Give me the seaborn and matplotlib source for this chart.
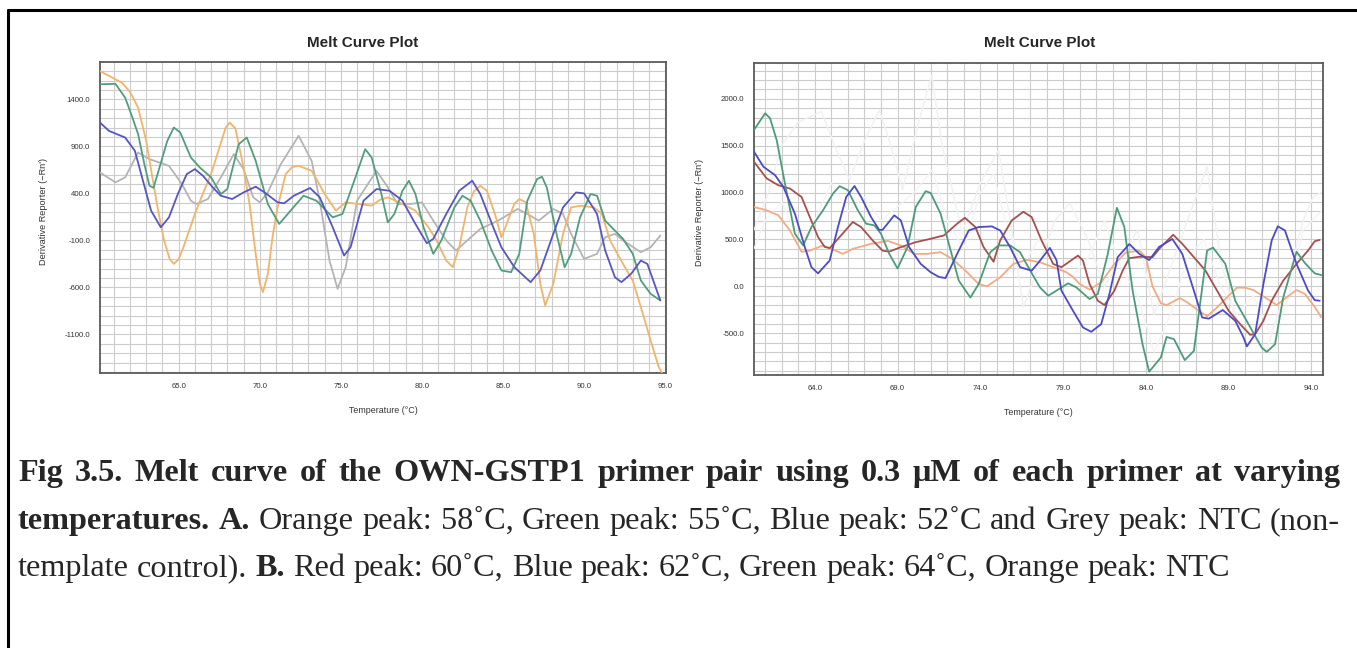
import matplotlib
matplotlib.use("Agg")
import matplotlib.pyplot as plt
from matplotlib.ticker import MultipleLocator, FormatStrFormatter
import pandas as pd
import seaborn as sns

# ---------------- panel A ----------------
a_orange_t = [60.15, 60.8, 61.5, 62.0, 62.5, 63.0, 63.35, 63.7, 64.1, 64.45, 64.7, 65.0, 65.3, 65.7, 66.0,
              66.5, 67.0, 67.5, 67.9, 68.15, 68.5, 69.0, 69.4, 69.75, 70.0, 70.2, 70.5, 70.8, 71.1, 71.6,
              72.0, 72.4, 73.2, 73.6, 74.0, 74.7, 75.3, 76.1, 76.9, 77.4, 77.9, 78.4, 78.8, 79.6, 80.4,
              80.9, 81.5, 81.9, 82.3, 82.8, 83.2, 83.6, 84.0, 84.5, 84.9, 85.3, 85.7, 86.0, 86.4, 86.9,
              87.3, 87.6, 88.1, 88.7, 89.2, 89.8, 90.6, 91.1, 91.6, 92.4, 93.0, 93.5, 94.1, 94.6, 94.8]
a_orange_v = [1700, 1640, 1577, 1480, 1312, 959, 600, 250, -100, -300, -350, -300, -170, 30, 180,
              400, 605, 880, 1100, 1153, 1090, 676, 250, -243, -560, -650, -455, -50, 251, 605,
              680, 693, 640, 520, 393, 216, 305, 287, 270, 330, 358, 320, 287, 216, 40,
              -100, -314, -385, -173, 251, 420, 481, 428, 181, -67, 110, 290, 340, 305, -31,
              -562, -792, -562, -31, 251, 269, 251, 181, -100, -350, -526, -809, -1163, -1446, -1510]

a_green_t = [60.15, 61.1, 61.7, 62.1, 62.5, 62.9, 63.2, 63.45, 63.7, 64.3, 64.7, 65.1, 65.75, 66.3, 67.0,
             67.6, 68.0, 68.7, 69.2, 69.75, 70.5, 71.2, 71.9, 72.7, 73.5, 74.5, 75.1, 75.9, 76.5, 76.9,
             77.5, 77.9, 78.3, 78.8, 79.2, 79.6, 80.1, 80.7, 81.2, 82.0, 82.5, 83.0, 83.6, 84.3, 84.9,
             85.5, 86.0, 86.5, 87.1, 87.4, 87.7, 88.3, 88.8, 89.2, 89.75, 90.4, 90.8, 91.3, 91.9, 92.4,
             93.0, 93.5, 94.1, 94.7]
a_green_v = [1560, 1565, 1418, 1230, 1030, 700, 481, 460, 605, 959, 1100, 1047, 782, 676, 570,
             393, 446, 923, 994, 746, 287, 75, 216, 375, 322, 145, 181, 570, 870, 782,
             393, 92, 181, 428, 534, 393, 40, -243, -100, 251, 375, 322, 110, -208, -420,
             -438, -243, 322, 552, 577, 464, -31, -385, -243, 145, 393, 375, 110, 4, -84,
             -243, -526, -668, -738]

a_blue_t = [60.15, 60.7, 61.7, 62.3, 62.8, 63.3, 63.9, 64.4, 64.95, 65.5, 66.0, 66.5, 67.1, 67.6, 68.3,
            69.0, 69.75, 70.3, 71.1, 71.5, 72.1, 73.1, 73.7, 74.5, 75.2, 75.6, 76.4, 77.2, 78.0, 78.8,
            79.6, 80.3, 80.7, 81.5, 82.3, 83.1, 83.6, 84.4, 84.9, 85.7, 86.7, 87.3, 88.1, 88.7, 89.5,
            90.0, 90.8, 91.3, 91.9, 92.3, 92.9, 93.5, 93.9, 94.7]
a_blue_v = [1153, 1065, 994, 853, 534, 216, 39, 145, 393, 605, 658, 587, 464, 375, 340,
            410, 471, 410, 305, 294, 375, 457, 358, 39, -261, -173, 322, 446, 428, 322,
            75, -130, -84, 181, 428, 534, 393, 39, -173, -385, -544, -420, -31, 251, 410,
            400, 181, -208, -491, -544, -455, -314, -350, -738]

a_grey_t = [60.15, 61.1, 61.7, 62.5, 63.2, 64.4, 65.2, 65.75, 66.1, 66.8, 67.6, 68.4, 69.0, 69.6, 70.0,
            70.5, 71.3, 72.4, 73.2, 73.7, 74.3, 74.8, 75.3, 76.0, 77.2, 77.9, 78.5, 79.3, 80.0, 80.7,
            81.5, 82.1, 82.8, 83.6, 84.7, 85.9, 86.5, 87.2, 88.1, 88.7, 89.2, 90.0, 90.8, 91.3, 91.9,
            92.4, 93.5, 94.1, 94.7]
a_grey_v = [623, 517, 570, 835, 764, 693, 499, 322, 287, 340, 570, 817, 658, 358, 305,
            410, 711, 1012, 746, 322, -314, -615, -385, 322, 640, 464, 287, 287, 305, 110,
            -100, -208, -100, 22, 110, 234, 181, 110, 234, 181, -31, -297, -243, -67, -31,
            -100, -226, -173, -49]

# ---------------- panel B ----------------
b_green_t = [60.33, 61.0, 61.3, 61.7, 62.2, 62.8, 63.3, 63.8, 64.5, 65.1, 65.5, 66.0, 66.6, 67.1, 67.6,
             68.0, 68.5, 69.0, 69.6, 70.1, 70.7, 71.0, 71.6, 72.1, 72.7, 73.4, 73.9, 74.6, 75.1, 75.8,
             76.4, 76.9, 77.6, 78.1, 78.6, 79.3, 79.8, 80.6, 81.1, 81.7, 82.25, 82.7, 83.2, 83.8, 84.2,
             84.9, 85.25, 85.7, 86.35, 86.9, 87.3, 87.7, 88.06, 88.8, 89.4, 90.2, 91.0, 91.3, 91.8, 92.3,
             93.1, 93.6, 94.2, 94.6]
b_green_v = [1668, 1845, 1793, 1560, 1096, 561, 436, 632, 811, 989, 1068, 1025, 811, 668, 650,
             561, 346, 190, 418, 846, 1015, 996, 775, 453, 61, -120, 25, 364, 436, 436,
             364, 204, -11, -100, -46, 32, -11, -136, -82, 346, 838, 632, -46, -618, -910,
             -761, -540, -564, -787, -689, -154, 382, 413, 239, -154, -404, -654, -700, -618, -118,
             369, 250, 138, 120]

b_blue_t = [60.33, 60.9, 61.6, 62.1, 62.8, 63.4, 63.8, 64.2, 64.9, 65.4, 65.9, 66.4, 66.8, 67.4, 67.9,
            68.1, 68.8, 69.2, 69.7, 70.4, 71.0, 71.5, 71.9, 72.6, 73.3, 73.9, 74.7, 75.2, 75.8, 76.4,
            77.1, 77.5, 78.2, 78.6, 78.9, 79.6, 80.2, 80.7, 81.3, 81.8, 82.3, 83.0, 83.6, 84.2, 84.8,
            85.6, 86.2, 86.9, 87.4, 87.8, 88.65, 89.4, 89.9, 90.1, 90.6, 91.1, 91.6, 91.97, 92.4, 93.1,
            93.8, 94.2, 94.5]
b_blue_v = [1436, 1275, 1186, 1061, 775, 418, 204, 138, 275, 632, 953, 1070, 953, 739, 600,
            603, 757, 703, 418, 239, 150, 100, 88, 346, 596, 632, 639, 596, 418, 204,
            167, 250, 410, 280, -46, -261, -439, -485, -404, -82, 311, 451, 346, 280, 420,
            505, 346, -46, -332, -345, -253, -368, -546, -641, -511, 25, 489, 640, 596, 239,
            -46, -147, -154]

b_red_t = [60.33, 61.1, 61.8, 62.5, 63.2, 63.7, 64.2, 64.6, 64.9, 65.5, 66.3, 66.8, 67.5, 68.1, 68.5,
           69.2, 70.1, 71.0, 71.8, 72.6, 73.07, 73.7, 74.2, 74.8, 75.2, 75.9, 76.6, 77.1, 77.7, 78.4,
           78.9, 79.9, 80.2, 80.6, 81.1, 81.5, 82.1, 82.6, 83.0, 83.6, 84.4, 84.9, 85.65, 86.2, 86.9,
           87.6, 88.3, 89.0, 89.7, 90.3, 90.6, 91.1, 91.6, 92.3, 93.1, 93.8, 94.2, 94.5]
b_red_v = [1328, 1150, 1078, 1043, 953, 739, 525, 420, 408, 525, 686, 632, 489, 380, 370,
           418, 471, 507, 543, 668, 731, 632, 418, 262, 489, 703, 795, 739, 489, 239,
           204, 328, 275, 25, -154, -200, -46, 168, 300, 315, 311, 418, 550, 453, 311,
           168, -46, -261, -404, -517, -511, -368, -154, 61, 239, 382, 481, 495]

b_orange_t = [60.33, 61.1, 61.8, 62.5, 63.2, 63.7, 64.5, 65.0, 65.7, 66.3, 67.4, 68.4, 69.2, 70.0, 70.8,
              71.6, 72.3, 73.1, 73.9, 74.4, 75.2, 76.0, 76.8, 77.6, 78.4, 79.2, 79.6, 80.0, 80.6, 81.3,
              82.1, 82.8, 83.6, 84.0, 84.4, 84.9, 85.25, 86.05, 86.5, 87.2, 87.7, 88.3, 88.9, 89.5, 90.0,
              90.5, 91.3, 91.9, 92.5, 93.1, 93.6, 94.2, 94.6]
b_orange_v = [846, 811, 757, 596, 369, 380, 436, 400, 346, 400, 453, 485, 436, 346, 346,
              364, 293, 168, 25, 0, 96, 239, 282, 257, 204, 150, 100, 25, -35, 43,
              239, 360, 380, 311, 0, -180, -200, -126, -171, -261, -320, -225, -118, -15, -15,
              -40, -130, -200, -118, -40, -80, -220, -330]

# faint background traces in panel B
b_ghost1_t = [60.33, 61.2, 62.0, 63.0, 64.4, 65.2, 66.1, 67.0, 67.9, 68.6, 69.3, 70.2, 71.06, 71.7, 72.9,
              74.0, 75.1, 75.9, 76.6, 77.5, 78.5, 79.4, 80.5, 81.5, 82.5, 83.5, 84.5, 85.5, 86.5, 87.7,
              88.5, 89.5, 91.3, 92.5, 93.5, 94.1, 94.6]
b_ghost1_v = [600, 1000, 1500, 1750, 1862, 1500, 1134, 1550, 1880, 1500, 1027, 1700, 2250, 1500, 568,
              1100, 1454, 600, -221, 200, 700, 888, 500, 0, 300, 600, -300, 200, 700, 1276,
              300, -400, -680, 0, 700, 952, 1000]
b_ghost2_t = [60.33, 61.0, 62.0, 63.2, 64.0, 65.0, 66.0, 67.0, 68.0, 69.0, 70.0, 71.1, 72.0, 73.0, 74.0,
              74.8, 75.5, 76.5, 77.5, 78.5, 79.5, 80.5, 81.5, 82.5, 83.5, 84.5, 85.5, 86.5, 87.5, 88.5,
              89.5, 90.5, 91.5, 92.5, 93.5, 94.6]
b_ghost2_v = [400, 700, 900, 450, 700, 1100, 800, 950, 700, 850, 1000, 1240, 700, 400, 1000,
              1200, 700, 200, 500, 300, 100, 300, 700, 200, -100, -700, -300, 300, 500, 0,
              -300, -100, -500, -200, 600, 800]

caption1 = [("Fig 3.5. Melt curve of the OWN-GSTP1 primer pair using 0.3 μM of each primer at varying", True)]
caption2 = [("temperatures.", True), ("A.", True),
            ("Orange peak: 58˚C, Green peak: 55˚C, Blue peak: 52˚C and Grey peak: NTC (non-", False)]
caption3 = [("template control).", False), ("B.", True),
            ("Red peak: 60˚C, Blue peak: 62˚C, Green peak: 64˚C, Orange peak: NTC", False)]

sns.set_style("white")
plt.rcParams["font.family"] = ["Liberation Sans", "DejaVu Sans"]
serif = ["Liberation Serif", "DejaVu Serif"]

W, H = 1357, 648
fig = plt.figure(figsize=(W / 100, H / 100), dpi=100)
renderer = fig.canvas.get_renderer()


def px_axes(x0, y0, x1, y1):
    return fig.add_axes([x0 / W, 1 - y1 / H, (x1 - x0) / W, (y1 - y0) / H])


def panel(ax, curves, palette, widths, xlim, ylim, xticks, yticks):
    df = pd.concat([pd.DataFrame({"temp": t, "value": v, "well": k}) for k, (t, v) in curves.items()])
    sns.lineplot(data=df, x="temp", y="value", hue="well", palette=palette, hue_order=list(curves),
                 size="well", sizes=widths, size_order=list(curves),
                 estimator=None, sort=False, legend=False, ax=ax, zorder=3)
    for ln in ax.lines:
        ln.set_solid_joinstyle("round")
    ax.set_xlim(*xlim)
    ax.set_ylim(*ylim)
    ax.set_xticks(xticks)
    ax.set_yticks(yticks)
    ax.xaxis.set_minor_locator(MultipleLocator(1))
    ax.yaxis.set_minor_locator(MultipleLocator(100))
    ax.xaxis.set_major_formatter(FormatStrFormatter("%.1f"))
    ax.yaxis.set_major_formatter(FormatStrFormatter("%.1f"))
    ax.grid(True, which="both", color="#cccccc", lw=0.8, zorder=0)
    ax.set_axisbelow(True)
    ax.tick_params(which="both", direction="out", color="#aaaaaa", labelsize=5.6, labelcolor="#333333")
    ax.tick_params(which="major", length=3, width=0.6, pad=4)
    ax.tick_params(which="minor", length=2, width=0.5)
    ax.tick_params(axis="y", which="minor", length=0)
    for s in ax.spines.values():
        s.set_color("#5a5a5a")
        s.set_linewidth(1.3)
    ax.set_xlabel("Temperature (°C)", fontsize=6.4, color="#333333")
    ax.set_ylabel("Derivative Reporter (−Rn')", fontsize=6.6, color="#333333")
    ax.xaxis.set_label_coords(0.5, -0.105)


axA = px_axes(100, 62, 666, 373)
panel(axA,
      {"grey": (a_grey_t, a_grey_v), "orange": (a_orange_t, a_orange_v),
       "green": (a_green_t, a_green_v), "blue": (a_blue_t, a_blue_v)},
      {"grey": "#b4b4b4", "orange": "#f2b46a", "green": "#519e7c", "blue": "#5656c4"},
      {"grey": 1.3, "orange": 1.3, "green": 1.3, "blue": 1.3},
      (60.15, 95.05), (-1510, 1797), list(range(65, 96, 5)), list(range(-1100, 1401, 500)))
axA.yaxis.set_label_coords(-0.092, 0.52)

axB = px_axes(754, 63, 1323, 375)
panel(axB,
      {"g1": (b_ghost1_t, b_ghost1_v), "g2": (b_ghost2_t, b_ghost2_v),
       "orange": (b_orange_t, b_orange_v), "red": (b_red_t, b_red_v),
       "green": (b_green_t, b_green_v), "blue": (b_blue_t, b_blue_v)},
      {"g1": "#f1f1f1", "g2": "#f4f4f4", "orange": "#f2ab82", "red": "#a5504f",
       "green": "#4c9c7a", "blue": "#4b4bc6"},
      {"g1": 1.1, "g2": 1.0, "orange": 1.3, "red": 1.3, "green": 1.3, "blue": 1.3},
      (60.33, 94.7), (-946, 2382), list(range(64, 95, 5)), list(range(-500, 2001, 500)))
axB.yaxis.set_label_coords(-0.088, 0.52)

fig.text(363 / W, 1 - 43 / H, "Melt Curve Plot", ha="center", va="center", fontsize=11, fontweight="bold")
fig.text(1040 / W, 1 - 43 / H, "Melt Curve Plot", ha="center", va="center", fontsize=11, fontweight="bold")


def split_words(parts):
    return [(w, bold) for text, bold in parts for w in text.split(" ")]


def natural_width(parts, size):
    words = split_words(parts)
    total = 0.0
    for w, bold in words:
        t = fig.text(0, 0, w, fontsize=size, family=serif, fontweight="bold" if bold else "normal")
        total += t.get_window_extent(renderer).width
        t.remove()
    return total + (len(words) - 1) * size * 100 / 72 * 0.25


# caption size chosen so the last (unjustified) line ends where it does in the picture
CAP = 10 * (1229 - 18) / natural_width(caption3, 10)


def caption_line(parts, base_y, x0, x1, justify):
    items = []
    for w, bold in split_words(parts):
        t = fig.text(0, 1 - base_y / H, w, fontsize=CAP, family=serif,
                     fontweight="bold" if bold else "normal", va="baseline", ha="left")
        items.append((t, t.get_window_extent(renderer).width))
    total = sum(wd for _, wd in items)
    gap = (x1 - x0 - total) / (len(items) - 1) if justify else CAP * 100 / 72 * 0.25
    x = x0
    for t, wd in items:
        t.set_x(x / W)
        x += wd + gap


caption_line(caption1, 481, 18, 1340, True)
caption_line(caption2, 529, 18, 1340, True)
caption_line(caption3, 576, 18, 1340, False)

# frame around the figure
fig.add_artist(plt.Line2D([8 / W, 1], [1 - 10 / H, 1 - 10 / H], color="black", lw=2.2))
fig.add_artist(plt.Line2D([8 / W, 8 / W], [0, 1 - 10 / H], color="black", lw=2.2))

fig.savefig("out.png", dpi=100)
